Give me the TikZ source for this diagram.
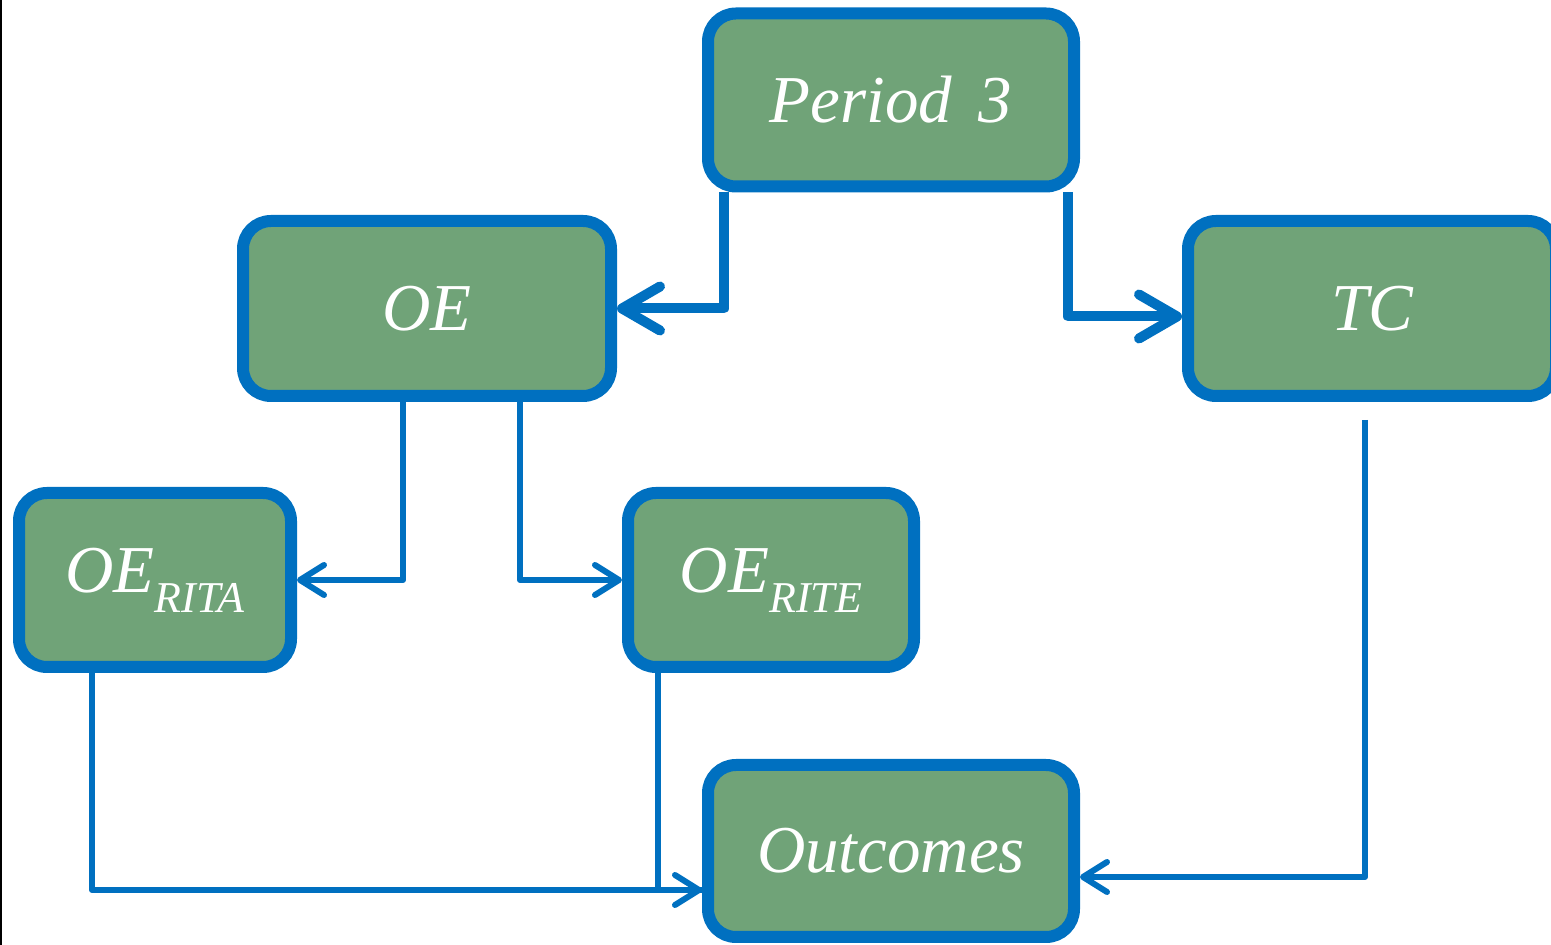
\documentclass[tikz,border=0pt]{standalone}
\usepackage{fontspec}
\setmainfont{Liberation Serif}
\usetikzlibrary{arrows.meta}
\definecolor{boxgreen}{HTML}{70A378}
\definecolor{edgeblue}{HTML}{0070C0}
\tikzset{
  stage/.style={draw=edgeblue, fill=boxgreen, line width=12pt,
    rounded corners=28pt, text=white, inner sep=0pt,
    font=\fontsize{67}{74}\selectfont\itshape},
  mainlink/.style={draw=edgeblue, line width=10pt, line join=round,
    -{Straight Barb[length=38pt, width=44pt, line cap=round, line join=round]}},
  sublink/.style={draw=edgeblue, line width=6pt, line join=round,
    -{Straight Barb[length=24pt, width=30pt, line cap=round, line join=round]}},
  plainlink/.style={draw=edgeblue, line width=6pt, line join=round}
}
\newcommand{\lowsub}[1]{\raisebox{-0.3em}{\fontsize{44}{50}\selectfont #1}}
\begin{document}
\begin{tikzpicture}[x=1pt, y=1pt]
  \useasboundingbox (0,0) rectangle (1551,945);
  \clip (0,0) rectangle (1551,945);

  % thin rule along the left edge
  \draw[black, line width=1.5pt] (0.75,0) -- (0.75,945);

  % boxes
  \node[stage, minimum width=366pt, minimum height=173pt] (p3) at (891,845) {Period\hspace{0.4em}3};
  \node[stage, minimum width=368pt, minimum height=175pt] (oe) at (427,636.5) {OE};
  \node[stage, minimum width=368pt, minimum height=175pt] (tc) at (1372,636.5) {TC};
  \node[stage, minimum width=272pt, minimum height=174pt] (rita) at (155,365) {OE\lowsub{RITA}};
  \node[stage, minimum width=286pt, minimum height=174pt] (rite) at (771,365) {OE\lowsub{RITE}};
  \node[stage, minimum width=366pt, minimum height=172pt] (out) at (891,94) {Outcomes};

  % links from Period 3
  \draw[mainlink] ([xshift=22pt]p3.south west) |- (oe.east);
  \draw[mainlink] ([xshift=-12pt]p3.south east) |- ([yshift=-8pt]tc.west);

  % links from OE
  \draw[sublink] ([xshift=166pt]oe.south west) |- (rita.east);
  \draw[sublink] ([xshift=283pt]oe.south west) |- (rite.west);

  % links into Outcomes
  \draw[plainlink] ([xshift=36pt]rite.south west) |- ([yshift=-39pt]out.west);
  \draw[sublink] ([xshift=79pt]rita.south west) |- ([yshift=-39pt]out.west);
  \draw[sublink] ([xshift=-7pt, yshift=-18pt]tc.south) |- ([yshift=-26pt]out.east);
\end{tikzpicture}
\end{document}
